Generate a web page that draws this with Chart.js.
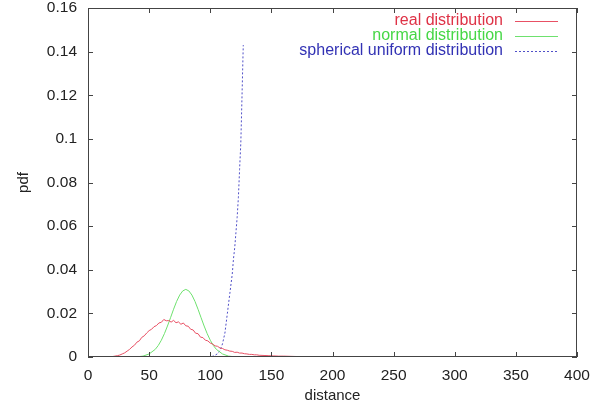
<!DOCTYPE html>
<html><head><meta charset="utf-8">
<script src="https://cdn.jsdelivr.net/npm/chart.js@4/dist/chart.umd.min.js"></script>
<style>html,body{margin:0;padding:0;background:#fff}#w{width:602px;height:408px}</style>
</head><body><div id="w"><canvas id="c" width="602" height="408"></canvas></div>
<script>
const seriesNames = ["real distribution", "normal distribution", "spherical uniform distribution"];
const realX = [0,14,18,20,22,24,26,28,30,32,34,36,38,40,42,44,46,48,50,52,54,56,58,60,62,64,66,68,70,72,74,76,78,80,82,84,86,88,90,92,94,96,98,100,102,104,106,108,110,112,114,116,118,120,122,124,126,128,130,132,134,136,138,140,144,148,152,156,160,166,172,180,190,200,250,300,350,400];
const realY = [0,0,0.0001,0.0002,0.0004,0.0006,0.0009,0.0014,0.0019,0.0027,0.0035,0.0046,0.0054,0.0068,0.0074,0.0090,0.0097,0.0110,0.0121,0.0127,0.0139,0.0144,0.0156,0.0159,0.0172,0.0166,0.0167,0.0160,0.0168,0.0157,0.0161,0.0150,0.0156,0.0143,0.0141,0.0127,0.0124,0.0109,0.0107,0.0091,0.0089,0.0077,0.0074,0.0064,0.0059,0.0051,0.0049,0.0041,0.0039,0.0033,0.0031,0.0027,0.0026,0.0021,0.0022,0.0018,0.0018,0.0015,0.0014,0.0012,0.0012,0.0010,0.0010,0.0008,0.0007,0.0006,0.0005,0.0004,0.0004,0.0003,0.0002,0.0002,0.0001,0.0001,0,0,0,0];
const normX = [0,40,45,50,55,57.5,60,62.5,65,67.5,70,72.5,75,77.5,80,82.5,85,87.5,90,92.5,95,97.5,100,102.5,105,110,115,120,125,400];
const normY = [0,0.0001,0.0004,0.0014,0.0035,0.0053,0.0077,0.0107,0.0142,0.0180,0.0219,0.0255,0.0284,0.0303,0.0310,0.0303,0.0284,0.0255,0.0219,0.0180,0.0142,0.0107,0.0077,0.0053,0.0035,0.0014,0.0004,0.0001,0,0];
const sphX = [0,100,103,106,108,110,112,114,116,118,119,120,121,122,123,124,125,126,127];
const sphY = [0,0,0.0005,0.0015,0.003,0.006,0.011,0.020,0.029,0.038,0.045,0.050,0.057,0.064,0.073,0.086,0.098,0.120,0.143];
const xTicks = [0,50,100,150,200,250,300,350,400];
const yTicks = [0,0.02,0.04,0.06,0.08,0.1,0.12,0.14,0.16];
const xTitle = "distance", yTitle = "pdf";

const colors = ["rgb(232,80,100)", "rgb(110,225,110)", "rgb(80,80,200)"];
const textColors = ["rgb(222,50,70)", "rgb(70,215,70)", "rgb(50,50,180)"];
const FONT = '"Liberation Sans", Arial, sans-serif';
const pts = (xs, ys) => xs.map((x, i) => ({x, y: ys[i]}));

const frame = {
  id: 'frame',
  afterDraw(chart) {
    const {ctx, chartArea: a, scales: {x, y}} = chart;
    ctx.save();
    ctx.strokeStyle = '#444'; ctx.lineWidth = 1;
    ctx.strokeRect(a.left + 0.5, a.top + 0.5, a.right - a.left - 1, a.bottom - a.top - 1);
    ctx.beginPath();
    xTicks.forEach(v => { const p = Math.round(x.getPixelForValue(v)) + 0.5;
      ctx.moveTo(p, a.bottom); ctx.lineTo(p, a.bottom - 5); ctx.moveTo(p, a.top); ctx.lineTo(p, a.top + 5); });
    yTicks.forEach(v => { const p = Math.round(y.getPixelForValue(v)) + 0.5;
      ctx.moveTo(a.left, p); ctx.lineTo(a.left + 5, p); ctx.moveTo(a.right, p); ctx.lineTo(a.right - 5, p); });
    ctx.stroke();
    // legend
    ctx.font = '16px ' + FONT;
    ctx.textAlign = 'right'; ctx.textBaseline = 'middle';
    seriesNames.forEach((n, i) => {
      const yy = 21 + i * 15;
      ctx.fillStyle = textColors[i];
      ctx.fillText(n, 503, yy);
      ctx.strokeStyle = colors[i];
      ctx.setLineDash(i === 2 ? [2, 2] : []);
      ctx.beginPath(); ctx.moveTo(515, yy + 0.5); ctx.lineTo(558, yy + 0.5); ctx.stroke();
    });
    ctx.restore();
  }
};

new Chart(document.getElementById('c'), {
  type: 'scatter',
  data: { datasets: [
    { label: seriesNames[0], data: pts(realX, realY), showLine: true, borderColor: colors[0], borderWidth: 1, pointRadius: 0, tension: 0 },
    { label: seriesNames[1], data: pts(normX, normY), showLine: true, borderColor: colors[1], borderWidth: 1, pointRadius: 0, tension: 0 },
    { label: seriesNames[2], data: pts(sphX, sphY), showLine: true, borderColor: colors[2], borderWidth: 1, borderDash: [2, 2], pointRadius: 0, tension: 0 }
  ]},
  options: {
    responsive: false, animation: false, devicePixelRatio: 1,
    layout: { padding: { top: 8, right: 25, left: 0, bottom: 0 } },
    plugins: { legend: { display: false }, tooltip: { enabled: false } },
    scales: {
      x: { type: 'linear', min: 0, max: 400,
        afterBuildTicks: s => { s.ticks = xTicks.map(v => ({value: v})); },
        afterFit: s => { s.height = 51; s.paddingLeft = 0; s.paddingRight = 0; },
        grid: { display: false, drawTicks: false }, border: { display: false },
        ticks: { color: '#222', padding: 9, maxRotation: 0, font: { size: 15.5, family: FONT }, callback: v => String(v) },
        title: { display: true, text: xTitle, color: '#222', padding: { top: 0, bottom: 3 }, font: { size: 15, family: FONT } } },
      y: { type: 'linear', min: 0, max: 0.16,
        afterBuildTicks: s => { s.ticks = yTicks.map(v => ({value: v})); },
        afterFit: s => { s.width = 88; s.paddingTop = 0; s.paddingBottom = 0; },
        grid: { display: false, drawTicks: false }, border: { display: false },
        ticks: { color: '#222', padding: 11, font: { size: 15.5, family: FONT }, callback: v => String(+v.toFixed(2)) },
        title: { display: true, text: yTitle, color: '#222', padding: { top: 15, bottom: 0 }, font: { size: 15, family: FONT } } }
    }
  },
  plugins: [frame]
});
</script></body></html>
